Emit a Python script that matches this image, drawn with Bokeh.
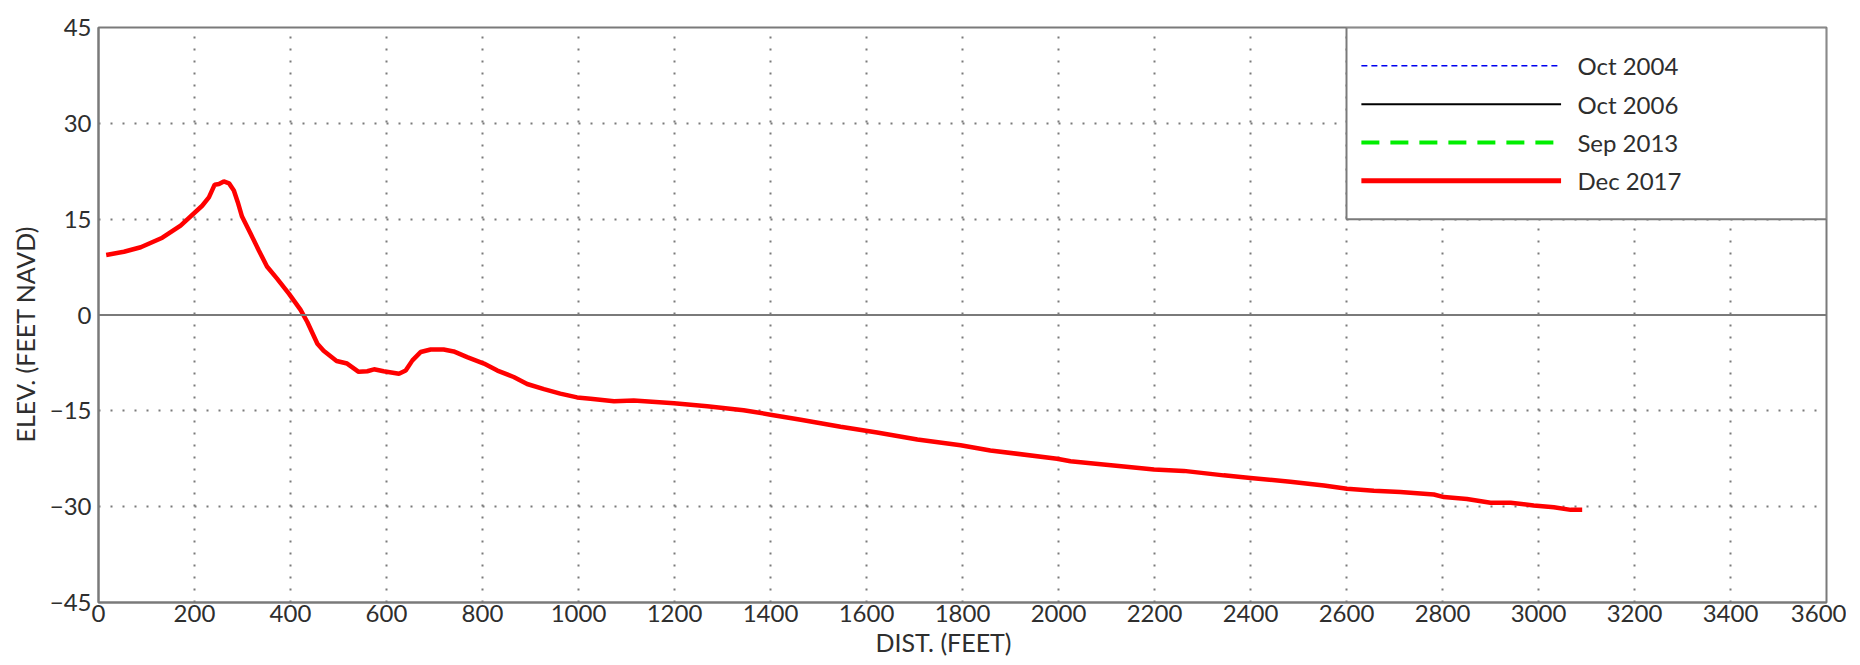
from bokeh.plotting import figure
from bokeh.models import Range1d, FixedTicker, Span, Title
from bokeh.core.properties import value
from bokeh.embed import file_html
from bokeh.resources import INLINE

# ---- data ----
series_names = ["Oct 2004", "Oct 2006", "Sep 2013", "Dec 2017"]
oct2004_x, oct2004_y = [], []
oct2006_x, oct2006_y = [], []
sep2013_x, sep2013_y = [], []
dec2017_x = [16, 53, 88, 133, 171, 216, 230, 242, 251, 261, 272, 282, 290, 299, 317, 334,
             351, 372, 397, 421, 435, 456, 469, 496, 518, 542, 560, 574, 594, 626, 640, 654,
             671, 692, 719, 740, 768, 803, 831, 865, 893, 928, 962, 997, 1025, 1074, 1115,
             1199, 1268, 1344, 1400, 1463, 1546, 1622, 1706, 1796, 1858, 1997, 2025, 2067,
             2136, 2199, 2261, 2344, 2400, 2483, 2553, 2601, 2657, 2712, 2782, 2803, 2851,
             2900, 2942, 2990, 3032, 3067, 3091]
dec2017_y = [9.4, 9.9, 10.6, 12.1, 14.0, 17.1, 18.4, 20.4, 20.5, 20.9, 20.6, 19.5, 17.7, 15.4,
             12.7, 10.1, 7.6, 5.7, 3.3, 0.8, -1.1, -4.5, -5.6, -7.2, -7.6, -8.9, -8.8, -8.5,
             -8.8, -9.2, -8.7, -7.1, -5.8, -5.4, -5.4, -5.7, -6.6, -7.6, -8.7, -9.7, -10.8,
             -11.6, -12.3, -12.9, -13.1, -13.5, -13.4, -13.8, -14.3, -14.9, -15.6, -16.4,
             -17.5, -18.4, -19.5, -20.4, -21.2, -22.5, -22.9, -23.2, -23.7, -24.2, -24.4,
             -25.1, -25.5, -26.1, -26.7, -27.2, -27.5, -27.7, -28.1, -28.5, -28.8, -29.4,
             -29.4, -29.8, -30.1, -30.5, -30.5]
x_ticks = list(range(0, 3601, 200))
y_ticks = [-45, -30, -15, 0, 15, 30, 45]
y_tick_labels = [str(t).replace("-", "\u2212") for t in y_ticks]
x_title = "DIST. (FEET)"
y_title = "ELEV. (FEET NAVD)"

FONT = "Lato"
TXT = "#2e2e2e"
GRAY = "#7a7a7a"
FS = "24px"
BLUE = "#0000f0"

p = figure(frame_width=1728, frame_height=575, min_border_left=98, min_border_top=27,
           min_border_right=20, min_border_bottom=62,
           x_range=Range1d(0, 3600), y_range=Range1d(-45, 45),
           output_backend="svg", toolbar_location=None)
p.background_fill_color = "white"
p.border_fill_color = "white"
p.outline_line_color = GRAY
p.outline_line_width = 2

for ax in (p.xaxis[0], p.yaxis[0]):
    ax.axis_line_color = GRAY
    ax.axis_line_width = 2
    ax.major_tick_line_color = None
    ax.minor_tick_line_color = None
    ax.major_tick_out = 0
    ax.major_tick_in = 0
    ax.minor_tick_out = 0
    ax.minor_tick_in = 0
    ax.major_label_text_font = FONT
    ax.major_label_text_font_size = FS
    ax.major_label_text_color = TXT

p.xaxis.ticker = FixedTicker(ticks=x_ticks)
p.xaxis.major_label_standoff = 2
p.yaxis.ticker = FixedTicker(ticks=y_ticks)
p.yaxis.major_label_overrides = dict(zip(y_ticks, y_tick_labels))
p.yaxis.major_label_standoff = 7

p.xgrid.ticker = FixedTicker(ticks=x_ticks[1:-1])
p.ygrid.ticker = FixedTicker(ticks=[t for t in y_ticks if t not in (-45, 0, 45)])
for g in (p.xgrid[0], p.ygrid[0]):
    g.grid_line_color = GRAY
    g.grid_line_width = 2
    g.grid_line_dash = "2 10"

p.add_layout(Span(location=0, dimension="width", line_color=GRAY, line_width=2))

# axis titles (placed off-centre as in the reference)
p.add_layout(Title(text=x_title, align="left", offset=777, standoff=1,
                   text_font=FONT, text_font_size="25px", text_font_style="normal",
                   text_color=TXT), "below")
p.add_layout(Title(text=y_title, align="left", offset=160, standoff=13,
                   text_font=FONT, text_font_size="25px", text_font_style="normal",
                   text_color=TXT), "left")

# data lines
p.line(oct2004_x, oct2004_y, line_color=BLUE, line_width=1.5, line_dash="6 4")
p.line(oct2006_x, oct2006_y, line_color="black", line_width=2)
p.line(sep2013_x, sep2013_y, line_color="#00ee00", line_width=4, line_dash="18 11")
p.line(dec2017_x, dec2017_y, line_color="red", line_width=4.5)

# legend box
p.quad(left=2600, right=3600, bottom=15, top=45, fill_color="white",
       line_color=GRAY, line_width=2)
leg_y = [39, 33, 27, 21]
leg_styles = [dict(line_color=BLUE, line_width=1.5, line_dash="6 4"),
              dict(line_color="black", line_width=2),
              dict(line_color="#00ee00", line_width=4, line_dash="18 11"),
              dict(line_color="red", line_width=5)]
for name, yy, st in zip(series_names, leg_y, leg_styles):
    p.line([2631, 3047], [yy, yy], **st)
p.text(x=[3081] * 4, y=leg_y, text=series_names, text_font=value(FONT),
       text_font_size=FS, text_color=TXT, text_baseline="middle", text_align="left")

open("out.html", "w").write(file_html(p, INLINE))
